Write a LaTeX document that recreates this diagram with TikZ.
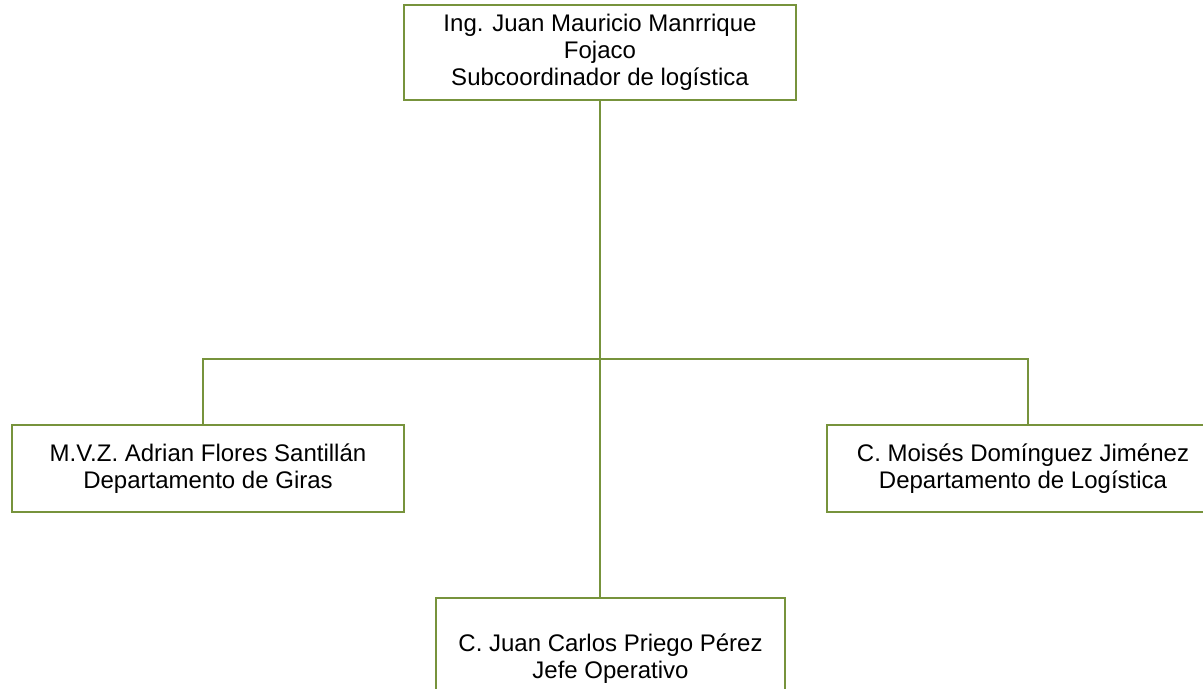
\documentclass[tikz,border=0pt]{standalone}
\usepackage{fontspec}
\setmainfont{Liberation Sans}
\usetikzlibrary{positioning}
\definecolor{olivo}{RGB}{119,147,60}

\begin{document}
\begin{tikzpicture}[x=0.5pt,y=-0.5pt,
    puesto/.style={draw=olivo,line width=0.75pt,align=center,inner sep=0pt,
      font=\fontsize{12}{13.5}\selectfont},
    enlace/.style={draw=olivo,line width=0.75pt}]
		\useasboundingbox (0,0) rectangle (1203,689);
		\clip (0,0) rectangle (1203,689);
		% jefe
		\node[puesto,minimum width=196pt,minimum height=47.5pt] (jefe) at (600,52.5)
			{Ing. Juan Mauricio Manrrique\\Fojaco\\Subcoordinador de logística};
		% departamentos
		\node[puesto,minimum width=196pt,minimum height=43.5pt] (giras) at (208,468.5)
			{M.V.Z. Adrian Flores Santillán\\Departamento de Giras};
		\node[puesto,minimum width=196pt,minimum height=43.5pt] (logistica) at (1023,468.5)
			{C. Moisés Domínguez Jiménez\\Departamento de Logística};
		\node[puesto,minimum width=174.5pt,minimum height=60.5pt] (operativo) at (610.5,658.5)
			{C. Juan Carlos Priego Pérez\\Jefe Operativo};
		\coordinate (rama) at (600,359);
		\draw[enlace] (jefe.south) -- (jefe.south |- operativo.north);
		\draw[enlace] ([xshift=-2.5pt]giras.north) |- (rama);
		\draw[enlace] ([xshift=2.5pt]logistica.north) |- (rama);
	\end{tikzpicture}
\end{document}
